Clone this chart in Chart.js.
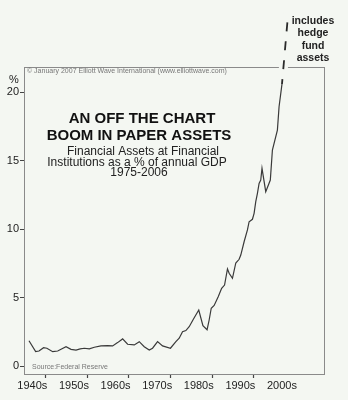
<!DOCTYPE html>
<html>
<head>
<meta charset="utf-8">
<script src="https://cdn.jsdelivr.net/npm/chart.js@4/dist/chart.umd.min.js"></script>
<style>
  html, body { margin: 0; padding: 0; background: #f4f7f2; }
  canvas { display: block; }
</style>
</head>
<body>
<canvas id="assetchart" width="348" height="400"></canvas>
<script>
// Financial assets at financial institutions, % of annual GDP
var years = [1941.0, 1942.6, 1943.4, 1944.5, 1945.3, 1946.7, 1947.9, 1948.7, 1949.9, 1951.1,
    1952.3, 1953.3, 1954.3, 1955.5, 1956.7, 1958.3, 1959.9, 1961.1, 1962.3, 1963.5,
    1964.7, 1966.3, 1967.5, 1968.7, 1969.9, 1970.7, 1971.9, 1973.1, 1975.0, 1976.3,
    1977.1, 1977.9, 1978.7, 1979.5, 1980.5, 1981.8, 1982.8, 1983.8, 1984.3, 1984.8,
    1985.5, 1986.5, 1987.3, 1988.0, 1988.7, 1989.1, 1989.9, 1990.7, 1991.5, 1991.9,
    1992.7, 1993.5, 1993.9, 1994.7, 1995.1, 1995.5, 1995.9, 1996.3, 1996.7, 1997.0,
    1997.9, 1999.0, 1999.5, 2000.7, 2001.1, 2001.8];
var values = [1.88, 1.08, 1.13, 1.37, 1.33, 1.08, 1.13, 1.25, 1.44, 1.25,
    1.20, 1.28, 1.33, 1.28, 1.40, 1.50, 1.52, 1.50, 1.74, 2.01,
    1.62, 1.57, 1.81, 1.44, 1.20, 1.33, 1.81, 1.50, 1.33, 1.81,
    2.06, 2.54, 2.62, 2.90, 3.45, 4.12, 2.98, 2.68, 3.39, 4.25,
    4.45, 5.10, 5.70, 5.94, 7.12, 6.80, 6.43, 7.55, 7.82, 8.13,
    9.10, 9.96, 10.56, 10.74, 11.17, 12.02, 12.63, 13.36, 13.60, 14.46,
    12.75, 13.60, 15.79, 17.25, 18.95, 20.60];
// dashed extension "includes hedge fund assets"
var hedgeYears = [2001.8, 2003.3];
var hedgeValues = [20.60, 25.8];

var yTicks = [0, 5, 10, 15, 20];
var tickYears = [1945, 1955, 1965, 1975, 1985, 1995];
var decadeLabels = ['1940s', '1950s', '1960s', '1970s', '1980s', '1990s', '2000s'];
var decadeLabelYears = [1941.8, 1951.8, 1961.8, 1971.8, 1981.8, 1991.8, 2001.8];

var FONT = "'Liberation Sans', Arial, sans-serif";
var BG = '#f4f7f2';
var BOX = '#8a8a8a';

function toPoints(xs, ys) {
    return xs.map(function (x, i) { return { x: x, y: ys[i] }; });
}

var labelByYear = {};
decadeLabelYears.forEach(function (y, i) { labelByYear[y] = decadeLabels[i]; });

var background = {
    id: 'background',
    beforeDraw: function (chart) {
        var c = chart.ctx;
        c.save();
        c.fillStyle = BG;
        c.fillRect(0, 0, chart.width, chart.height);
        c.restore();
    }
};

var notes = {
    id: 'notes',
    afterDraw: function (chart) {
        var c = chart.ctx, a = chart.chartArea;
        c.save();
        c.textBaseline = 'middle';

        c.fillStyle = '#777';
        c.font = '7px ' + FONT;
        c.textAlign = 'left';
        c.fillText('\u00A9 January 2007 Elliott Wave International (www.elliottwave.com)', a.left + 3, a.top + 4.5);
        c.fillText('Source:Federal Reserve', a.left + 8, a.bottom - 7);

        c.fillStyle = '#111';
        c.textAlign = 'center';
        c.font = 'bold 15px ' + FONT;
        c.fillText('AN OFF THE CHART', a.left + 118, a.top + 52);
        c.fillText('BOOM IN PAPER ASSETS', a.left + 115, a.top + 69);
        c.fillStyle = '#222';
        c.font = '12px ' + FONT;
        c.fillText('Financial Assets at Financial', a.left + 119, a.top + 85);
        c.fillText('Institutions as a % of annual GDP', a.left + 113, a.top + 95.5);
        c.fillText('1975-2006', a.left + 115, a.top + 106);

        c.font = '11px ' + FONT;
        c.fillText('%', a.left - 10, a.top + 13);

        c.fillStyle = '#222';
        c.font = 'bold 10.5px ' + FONT;
        ['includes', 'hedge', 'fund', 'assets'].forEach(function (t, i) {
            c.fillText(t, 313, 21 + i * 12.5);
        });
        c.restore();
    }
};

var ctx = document.getElementById('assetchart').getContext('2d');
var chart = new Chart(ctx, {
    type: 'line',
    data: {
        datasets: [{
            data: toPoints(years, values),
            borderColor: '#3a3a3a',
            borderWidth: 1.2,
            pointRadius: 0,
            tension: 0,
            order: 1
        }, {
            data: toPoints(hedgeYears, hedgeValues),
            borderColor: '#2a2a2a',
            borderWidth: 1.8,
            borderDash: [9, 10],
            borderDashOffset: 4,
            pointRadius: 0,
            clip: false,
            order: 2
        }, {
            // background-coloured halo that breaks the frame where the dashes cross it
            data: toPoints(hedgeYears, hedgeValues),
            borderColor: BG,
            borderWidth: 9,
            pointRadius: 0,
            clip: false,
            order: 3
        }]
    },
    options: {
        responsive: false,
        animation: false,
        layout: { padding: 0 },
        plugins: {
            legend: { display: false },
            tooltip: { enabled: false }
        },
        scales: {
            x: {
                type: 'linear',
                position: 'bottom',
                min: 1939.8,
                max: 2011.9,
                afterBuildTicks: function (scale) {
                    scale.ticks = tickYears.concat(decadeLabelYears)
                        .sort(function (p, q) { return p - q; })
                        .map(function (v) { return { value: v }; });
                },
                afterFit: function (scale) { scale.height = 26; },
                grid: {
                    drawOnChartArea: false,
                    tickLength: 4,
                    tickWidth: 1.2,
                    tickColor: function (c) {
                        return c.tick && labelByYear[c.tick.value] ? 'rgba(0,0,0,0)' : '#444';
                    }
                },
                border: { color: BOX, width: 1 },
                ticks: {
                    autoSkip: false,
                    maxRotation: 0,
                    padding: 1,
                    color: '#222',
                    font: { family: FONT, size: 11 },
                    callback: function (v) { return labelByYear[v] || ''; }
                }
            },
            xTop: {
                type: 'linear',
                position: 'top',
                min: 1939.8,
                max: 2011.9,
                afterFit: function (scale) { scale.height = 67; },
                grid: { display: false },
                ticks: { display: false },
                border: { color: BOX, width: 1 }
            },
            y: {
                min: -0.55,
                max: 21.85,
                afterBuildTicks: function (scale) {
                    scale.ticks = yTicks.map(function (v) { return { value: v }; });
                },
                afterFit: function (scale) { scale.width = 24; },
                grid: { drawOnChartArea: false, tickLength: 4, tickColor: '#444' },
                border: { color: BOX, width: 1 },
                ticks: {
                    padding: 1,
                    color: '#222',
                    font: { family: FONT, size: 11 }
                }
            },
            yRight: {
                position: 'right',
                min: -0.55,
                max: 21.85,
                afterFit: function (scale) { scale.width = 24; },
                grid: { display: false },
                ticks: { display: false },
                border: { color: BOX, width: 1 }
            }
        }
    },
    plugins: [background, notes]
});
</script>
</body>
</html>
